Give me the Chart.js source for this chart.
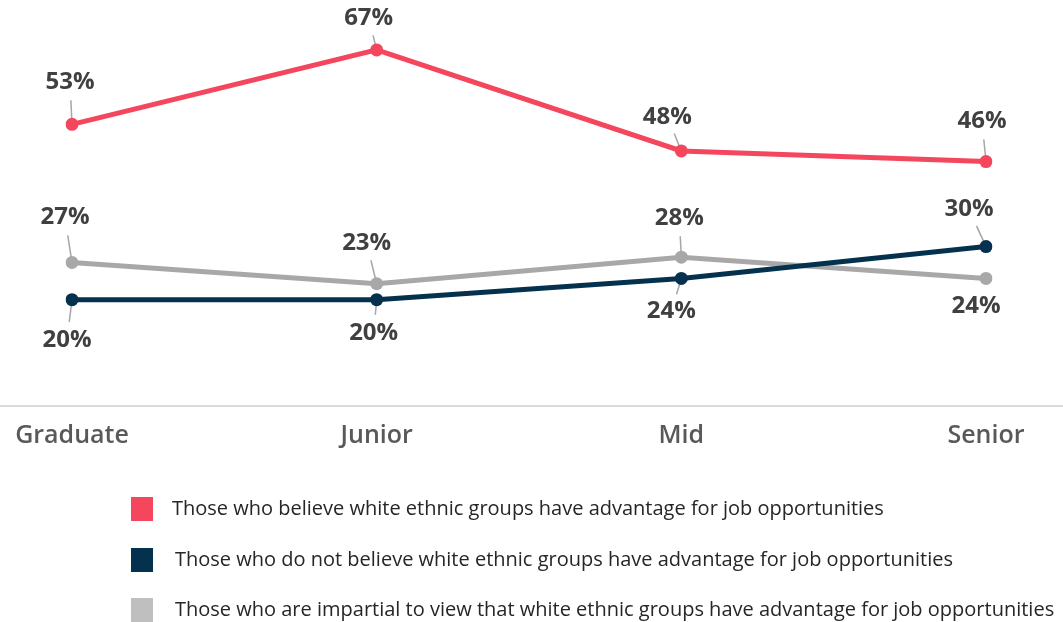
<!DOCTYPE html>
<html>
<head>
<meta charset="utf-8">
<script src="https://cdn.jsdelivr.net/npm/chart.js@4/dist/chart.umd.min.js"></script>
<style>
  html, body { margin: 0; padding: 0; background: #fff; }
  #wrap { width: 1063px; height: 622px; position: relative; }
</style>
</head>
<body>
<div id="wrap"><canvas id="levelChart" width="1063" height="622"></canvas></div>
<script>
// danh mục theo cấp bậc
const levels = ['Graduate', 'Junior', 'Mid', 'Senior'];

// tỷ lệ (%) theo từng nhóm ý kiến
const believeAdvantage = [53, 67, 48, 46];
const notBelieveAdvantage = [20, 20, 24, 30];
const impartialView = [27, 23, 28, 24];

const seriesNames = [
  'Those who believe white ethnic groups have advantage for job opportunities',
  'Those who do not believe white ethnic groups have advantage for job opportunities',
  'Those who are impartial to view that white ethnic groups have advantage for job opportunities'
];

const colors = ['#F4475E', '#04314D', '#A8A8A8'];
const legendColors = ['#F4475E', '#04314D', '#BFBFBF'];

// vị trí nhãn so với điểm (dx, dy) cho từng series
const labelOffsets = [
  [[-2, -42], [-8, -32], [-14, -34], [-4, -40]],
  [[-5, 40], [-3, 33], [-10, 33], [-17, -37]],
  [[-7, -45], [-10, -41], [-2, -39], [-10, 28]]
];
const showLeader = [
  [true, true, true, true],
  [true, true, true, true],
  [true, true, true, false]
];

// vẽ trục ngang kéo dài hết chiều rộng
const baseLinePlugin = {
  id: 'baseLine',
  beforeDatasetsDraw(chart) {
    const { ctx, scales } = chart;
    const y = scales.y.getPixelForValue(0);
    ctx.save();
    ctx.strokeStyle = '#D9D9D9';
    ctx.lineWidth = 2;
    ctx.beginPath();
    ctx.moveTo(0, y);
    ctx.lineTo(chart.width, y);
    ctx.stroke();
    ctx.restore();
  }
};

// nhãn giá trị có đường dẫn
const valueLabelPlugin = {
  id: 'valueLabels',
  beforeDatasetsDraw(chart) {
    const { ctx } = chart;
    ctx.save();
    ctx.strokeStyle = '#A6A6A6';
    ctx.lineWidth = 1.5;
    chart.data.datasets.forEach((ds, di) => {
      const meta = chart.getDatasetMeta(di);
      meta.data.forEach((pt, i) => {
        if (!showLeader[di][i]) return;
        const [dx, dy] = labelOffsets[di][i];
        const dist = Math.hypot(dx, dy);
        const len = dist - 18;
        if (len <= 0) return;
        ctx.beginPath();
        ctx.moveTo(pt.x, pt.y);
        ctx.lineTo(pt.x + dx / dist * len, pt.y + dy / dist * len);
        ctx.stroke();
      });
    });
    ctx.restore();
  },
  afterDatasetsDraw(chart) {
    const { ctx } = chart;
    ctx.save();
    ctx.font = 'bold 24px "Open Sans", sans-serif';
    ctx.fillStyle = '#404040';
    ctx.textAlign = 'center';
    ctx.textBaseline = 'middle';
    chart.data.datasets.forEach((ds, di) => {
      const meta = chart.getDatasetMeta(di);
      meta.data.forEach((pt, i) => {
        const [dx, dy] = labelOffsets[di][i];
        ctx.fillText(ds.data[i] + '%', pt.x + dx, pt.y + dy);
      });
    });
    ctx.restore();
  }
};

// chú thích dạng ô vuông phía dưới
const legendPlugin = {
  id: 'squareLegend',
  afterDraw(chart) {
    const { ctx } = chart;
    const rows = [509, 560, 610];
    const textX = [172, 175, 175];
    ctx.save();
    ctx.font = '20px "Open Sans", sans-serif';
    ctx.textBaseline = 'middle';
    chart.data.datasets.forEach((ds, di) => {
      ctx.fillStyle = legendColors[di];
      ctx.fillRect(131, rows[di] - 12, 22, 24);
      ctx.fillStyle = '#262626';
      ctx.fillText(ds.label, textX[di], rows[di]);
    });
    ctx.restore();
  }
};

const ctx = document.getElementById('levelChart').getContext('2d');
const makeSet = (label, data, color) => ({
  label: label,
  data: data,
  borderColor: color,
  backgroundColor: color,
  borderWidth: 5,
  pointRadius: 6.5,
  pointHoverRadius: 6.5,
  pointBorderWidth: 0,
  tension: 0,
  fill: false
});

new Chart(ctx, {
  type: 'line',
  data: {
    labels: levels,
    datasets: [
      makeSet(seriesNames[0], believeAdvantage, colors[0]),
      makeSet(seriesNames[1], notBelieveAdvantage, colors[1]),
      makeSet(seriesNames[2], impartialView, colors[2])
    ]
  },
  options: {
    responsive: false,
    animation: false,
    layout: { padding: { left: 72, right: 77, top: 34, bottom: 164 } },
    scales: {
      x: {
        offset: false,
        grid: { display: false },
        border: { display: false },
        ticks: {
          padding: 7,
          color: '#595959',
          font: { family: '"Open Sans", sans-serif', size: 25, weight: '600' }
        }
      },
      y: { display: false, min: 0, max: 70 }
    },
    plugins: {
      legend: { display: false },
      tooltip: { enabled: false }
    }
  },
  plugins: [baseLinePlugin, valueLabelPlugin, legendPlugin]
});
</script>
</body>
</html>
